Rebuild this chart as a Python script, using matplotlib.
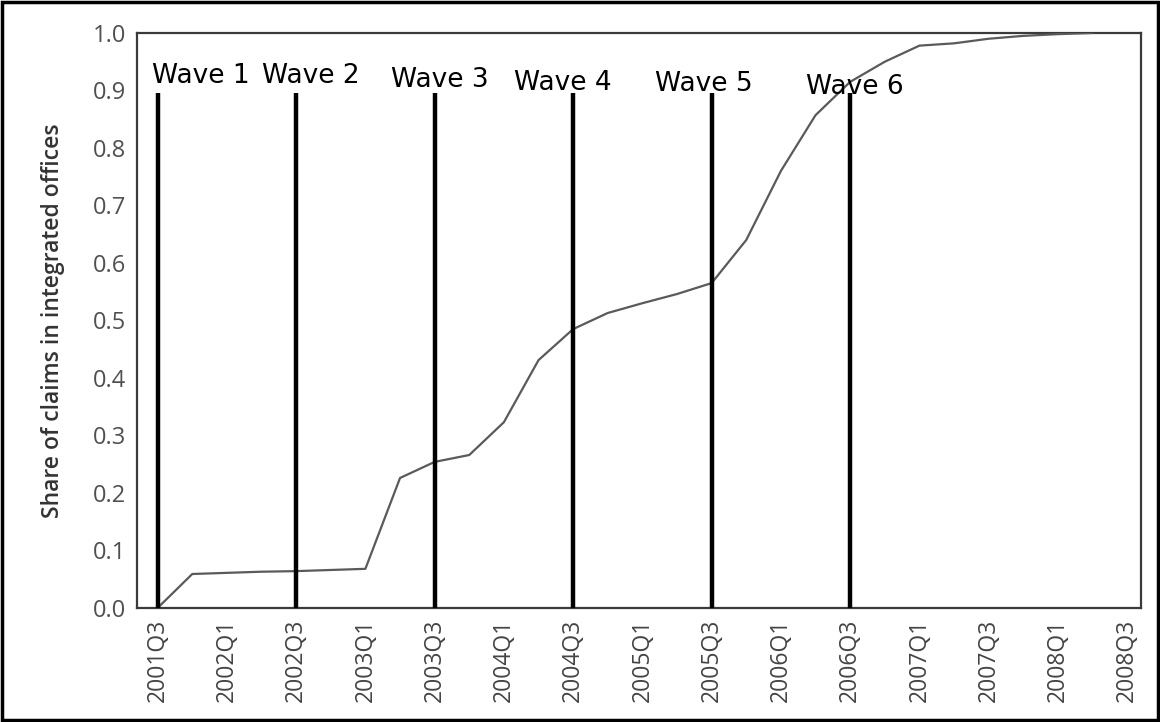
import matplotlib
matplotlib.use("Agg")
import matplotlib.pyplot as plt
from matplotlib.patches import Rectangle

# ---- data ----
quarters = ["2001Q3", "2001Q4", "2002Q1", "2002Q2", "2002Q3", "2002Q4", "2003Q1",
            "2003Q2", "2003Q3", "2003Q4", "2004Q1", "2004Q2", "2004Q3", "2004Q4",
            "2005Q1", "2005Q2", "2005Q3", "2005Q4", "2006Q1", "2006Q2", "2006Q3",
            "2006Q4", "2007Q1", "2007Q2", "2007Q3", "2007Q4", "2008Q1", "2008Q2",
            "2008Q3"]
share = [0.0, 0.059, 0.061, 0.063, 0.064, 0.066, 0.068,
         0.226, 0.254, 0.266, 0.323, 0.431, 0.485, 0.513,
         0.530, 0.546, 0.565, 0.640, 0.760, 0.857, 0.915,
         0.950, 0.978, 0.982, 0.990, 0.995, 0.998, 1.0]
tick_labels = quarters[::2]
wave_names = ["Wave 1", "Wave 2", "Wave 3", "Wave 4", "Wave 5", "Wave 6"]
wave_quarters = ["2001Q3", "2002Q3", "2003Q3", "2004Q3", "2005Q3", "2006Q3"]
wave_top = 0.896

# ---- layout (label placement) ----
wave_label_dx = [-0.17, -0.98, -1.25, -1.7, -1.65, -1.28]
wave_label_y = [0.913, 0.913, 0.906, 0.901, 0.899, 0.894]

fig = plt.figure(figsize=(11.6, 7.22), dpi=100)
ax = fig.add_axes([0.118, 0.158, 0.8656, 0.7963])

xs = list(range(len(share)))
ax.plot(xs, share, color="#5a5a5a", lw=1.6, zorder=3)

for name, q, dx, ly in zip(wave_names, wave_quarters, wave_label_dx, wave_label_y):
    xi = quarters.index(q)
    ax.plot([xi, xi], [0, wave_top], color="black", lw=3.2, zorder=4, solid_capstyle="butt")
    ax.text(xi + dx, ly, name, fontsize=19, color="black", ha="left", va="baseline",
            family="DejaVu Sans", zorder=5)

ax.set_xlim(-0.6, 28.4)
ax.set_ylim(0, 1.0)
ax.set_xticks(list(range(0, len(quarters), 2)))
ax.set_xticklabels(tick_labels, rotation=90, fontsize=16.5, color="#444444", family="Open Sans")
ax.set_yticks([i / 10 for i in range(11)])
ax.set_yticklabels([f"{i/10:.1f}" for i in range(11)], fontsize=17, color="#505050",
                   family="Open Sans")
ax.tick_params(length=0, pad=8)
ax.set_ylabel("Share of claims in integrated offices", fontsize=16.5, color="#333333",
              family="Open Sans", fontweight="semibold", labelpad=20)
for s in ax.spines.values():
    s.set_color("#3a3a3a")
    s.set_linewidth(1.6)

fig.patches.append(Rectangle((0.002, 0.003), 0.996, 0.994, transform=fig.transFigure,
                             fill=False, edgecolor="black", lw=2.5))

fig.savefig("out.png", dpi=100)
